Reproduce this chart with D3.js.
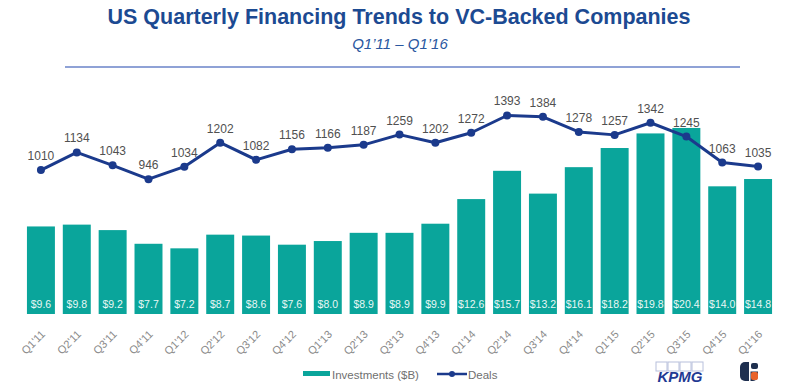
<!DOCTYPE html>
<html><head><meta charset="utf-8">
<script src="https://cdn.jsdelivr.net/npm/d3@7"></script>
<style>body{margin:0;background:#fff}svg{display:block}</style>
</head><body><svg id="c" width="797" height="392"></svg>
<script>
const quarters = ["Q1'11","Q2'11","Q3'11","Q4'11","Q1'12","Q2'12","Q3'12","Q4'12","Q1'13","Q2'13","Q3'13","Q4'13","Q1'14","Q2'14","Q3'14","Q4'14","Q1'15","Q2'15","Q3'15","Q4'15","Q1'16"];
const investments = [9.6,9.8,9.2,7.7,7.2,8.7,8.6,7.6,8.0,8.9,8.9,9.9,12.6,15.7,13.2,16.1,18.2,19.8,20.4,14.0,14.8];
const deals = [1010,1134,1043,946,1034,1202,1082,1156,1166,1187,1259,1202,1272,1393,1384,1278,1257,1342,1245,1063,1035];
const legendLabels = ["Investments ($B)","Deals"];
const titleText = "US Quarterly Financing Trends to VC-Backed Companies";
const subtitleText = "Q1\u201911 \u2013 Q1\u201916";

const svg = d3.select("#c");
const font = "'Liberation Sans', Arial, sans-serif";
const teal = "#0aa59b", navy = "#1b3a8c";

// title
svg.append("text").attr("x",399).attr("y",24).attr("text-anchor","middle")
  .attr("font-family","'Liberation Sans Narrow', 'Liberation Sans', Arial, sans-serif")
  .attr("font-weight","bold").attr("font-size",21.5).attr("fill","#1c4a92").text(titleText);
svg.append("text").attr("x",400).attr("y",49).attr("text-anchor","middle")
  .attr("font-family",font).attr("font-style","italic").attr("font-size",15).attr("fill","#2a57a0").text(subtitleText);
svg.append("line").attr("x1",65).attr("x2",740).attr("y1",67).attr("y2",67)
  .attr("stroke","#8fa2d6").attr("stroke-width",2);

const x = d3.scaleBand().domain(quarters).range([23,776]).paddingInner(0.22).paddingOuter(0.11);
const y1 = d3.scaleLinear().domain([0,25]).range([314,86]);
const y2 = d3.scaleLinear().domain([0,1600]).range([314,86]);

// bars
svg.append("g").selectAll("rect").data(investments).join("rect")
  .attr("x",(d,i)=>x(quarters[i])).attr("width",x.bandwidth())
  .attr("y",d=>y1(d)).attr("height",d=>y1(0)-y1(d)).attr("fill",teal);
svg.append("g").selectAll("text").data(investments).join("text")
  .attr("x",(d,i)=>x(quarters[i])+x.bandwidth()/2).attr("y",308)
  .attr("text-anchor","middle").attr("font-family",font).attr("font-size",10.5)
  .attr("fill","#e8f7f5").text(d=>"$"+d.toFixed(1));

// x axis labels
const xa = svg.append("g").attr("transform","translate(0,316)")
  .call(d3.axisBottom(x).tickSize(0).tickPadding(0));
xa.select(".domain").remove();
xa.selectAll("text").attr("font-family",font).attr("font-size",11).attr("fill","#8a8a8a")
  .attr("text-anchor","end").attr("dy","0").attr("y",0).attr("transform","translate(5,19) rotate(-45)");

// deals line
const cx = i => x(quarters[i])+x.bandwidth()/2;
svg.append("path").datum(deals)
  .attr("d",d3.line().x((d,i)=>cx(i)).y(d=>y2(d)))
  .attr("fill","none").attr("stroke",navy).attr("stroke-width",3).attr("stroke-linejoin","round");
svg.append("g").selectAll("circle").data(deals).join("circle")
  .attr("cx",(d,i)=>cx(i)).attr("cy",d=>y2(d)).attr("r",4).attr("fill",navy);
svg.append("g").selectAll("text").data(deals).join("text")
  .attr("x",(d,i)=>cx(i)).attr("y",d=>y2(d)-10)
  .attr("text-anchor","middle").attr("font-family",font).attr("font-size",12)
  .attr("fill","#505050").text(d=>d);

// legend
const lg = svg.append("g");
lg.append("rect").attr("x",303).attr("y",371).attr("width",27).attr("height",5).attr("fill",teal);
lg.append("text").attr("x",332).attr("y",379).attr("font-family",font).attr("font-size",11.5).attr("fill","#707070").text(legendLabels[0]);
lg.append("line").attr("x1",437).attr("x2",467).attr("y1",374).attr("y2",374).attr("stroke",navy).attr("stroke-width",2.5);
lg.append("circle").attr("cx",452).attr("cy",374).attr("r",3).attr("fill",navy);
lg.append("text").attr("x",468).attr("y",379).attr("font-family",font).attr("font-size",11.5).attr("fill","#707070").text(legendLabels[1]);

// KPMG logo
const kg = svg.append("g");
for (let k=0;k<4;k++) kg.append("rect").attr("x",656+k*12).attr("y",362).attr("width",11).attr("height",9)
  .attr("fill","none").attr("stroke","#b8c0dc").attr("stroke-width",1);
kg.append("text").attr("x",680).attr("y",382).attr("text-anchor","middle").attr("font-family",font)
  .attr("font-weight","bold").attr("font-style","italic").attr("font-size",15).attr("fill","#1f3a93").text("KPMG");
// second logo
const og = svg.append("g");
og.append("rect").attr("x",740).attr("y",362).attr("width",18).attr("height",19).attr("rx",5).attr("fill","#1e2f4f");
og.append("rect").attr("x",750).attr("y",362).attr("width",8).attr("height",8).attr("fill","#fff");
og.append("rect").attr("x",751).attr("y",363).attr("width",7).attr("height",6).attr("rx",2).attr("fill","#1e2f4f");
og.append("rect").attr("x",751).attr("y",372).attr("width",7).attr("height",8).attr("rx",2).attr("fill","#e8632b");
og.append("rect").attr("x",749).attr("y",370).attr("width",10).attr("height",1.5).attr("fill","#fff");
og.append("rect").attr("x",749).attr("y",362).attr("width",1.5).attr("height",19).attr("fill","#fff");
</script></body></html>
